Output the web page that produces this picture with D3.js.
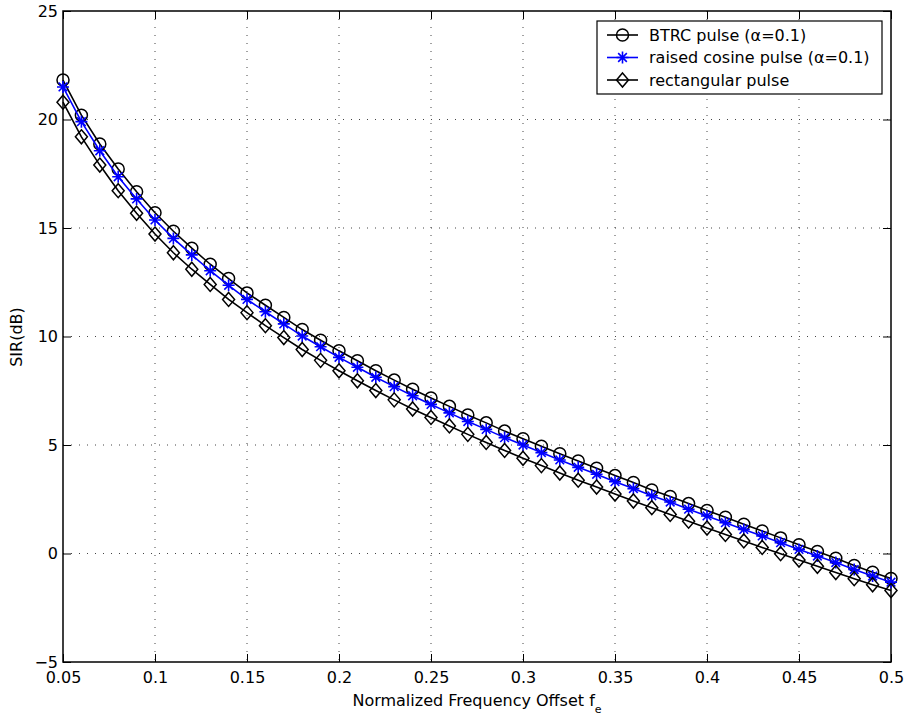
<!DOCTYPE html>
<html>
<head>
<meta charset="utf-8">
<script src="https://cdn.jsdelivr.net/npm/d3@7"></script>
<style>
html,body{margin:0;padding:0;background:#fff;}
svg{display:block;}
text{font-family:"DejaVu Sans","Liberation Sans",Arial,sans-serif;}
</style>
</head>
<body>
<svg id="chart" width="906" height="722"></svg>
<script>
// ---------------- data ----------------
const fe = [0.05,0.06,0.07,0.08,0.09,0.10,0.11,0.12,0.13,0.14,0.15,0.16,0.17,0.18,0.19,0.20,
  0.21,0.22,0.23,0.24,0.25,0.26,0.27,0.28,0.29,0.30,0.31,0.32,0.33,0.34,0.35,0.36,0.37,0.38,
  0.39,0.40,0.41,0.42,0.43,0.44,0.45,0.46,0.47,0.48,0.49,0.50];

const btrc = [21.82,20.20,18.87,17.72,16.67,15.70,14.85,14.07,13.33,12.67,12.01,11.44,10.88,10.32,
  9.83,9.34,8.88,8.42,7.99,7.57,7.17,6.78,6.38,6.02,5.64,5.29,4.94,4.60,4.26,3.93,3.59,3.27,2.93,
  2.63,2.30,1.98,1.67,1.35,1.04,0.72,0.40,0.09,-0.22,-0.55,-0.86,-1.15];

const raisedCos = [21.50,19.90,18.56,17.36,16.34,15.37,14.52,13.76,13.03,12.36,11.71,11.14,10.58,
  10.02,9.53,9.04,8.58,8.12,7.69,7.27,6.87,6.48,6.08,5.72,5.34,5.00,4.65,4.31,3.97,3.65,3.31,2.99,
  2.66,2.37,2.04,1.73,1.42,1.11,0.81,0.50,0.19,-0.12,-0.42,-0.74,-1.04,-1.32];

const rect = [20.80,19.20,17.90,16.72,15.68,14.72,13.86,13.10,12.40,11.71,11.10,10.50,9.95,9.40,
  8.90,8.42,7.96,7.51,7.08,6.66,6.27,5.88,5.49,5.12,4.75,4.39,4.05,3.71,3.38,3.06,2.74,2.42,2.11,
  1.80,1.49,1.17,0.88,0.58,0.28,-0.01,-0.30,-0.59,-0.88,-1.16,-1.44,-1.71];

const seriesNames = ["BTRC pulse (\u03b1=0.1)", "raised cosine pulse (\u03b1=0.1)", "rectangular pulse"];
const seriesColors = ["#000000", "#0000ff", "#000000"];
const seriesMarkers = ["circle", "star", "diamond"];
const xTicks = [0.05,0.1,0.15,0.2,0.25,0.3,0.35,0.4,0.45,0.5];
const yTicks = [-5,0,5,10,15,20,25];

// ---------------- layout ----------------
const svg = d3.select("#chart");
const L = 63, R = 891, T = 11, B = 662;
const x = d3.scaleLinear().domain([0.05, 0.5]).range([L, R]);
const y = d3.scaleLinear().domain([-5, 25]).range([B, T]);
const FS = 16;

// grid
const grid = svg.append("g");
grid.selectAll("line.gx").data(xTicks.slice(1, -1)).join("line")
  .attr("x1", d => x(d)).attr("x2", d => x(d)).attr("y1", T).attr("y2", B)
  .attr("stroke", "#444").attr("stroke-width", 1).attr("stroke-dasharray", "1,7");
grid.selectAll("line.gy").data(yTicks.slice(1, -1)).join("line")
  .attr("x1", L).attr("x2", R).attr("y1", d => y(d)).attr("y2", d => y(d))
  .attr("stroke", "#444").attr("stroke-width", 1).attr("stroke-dasharray", "1,7");

// axes (inward ticks, MATLAB style)
const fmtX = d3.format("~g");
const xAxisB = d3.axisBottom(x).tickValues(xTicks).tickSizeInner(-8).tickSizeOuter(0).tickPadding(10).tickFormat(fmtX);
const xAxisT = d3.axisTop(x).tickValues(xTicks).tickSizeInner(-8).tickSizeOuter(0).tickFormat("");
const yAxisL = d3.axisLeft(y).tickValues(yTicks).tickSizeInner(-8).tickSizeOuter(0).tickPadding(5).tickFormat(d3.format("d"));
const yAxisR = d3.axisRight(y).tickValues(yTicks).tickSizeInner(-8).tickSizeOuter(0).tickFormat("");

function styleAxis(g) {
  g.select(".domain").remove();
  g.selectAll(".tick line").attr("stroke", "#000").attr("stroke-width", 1);
  g.selectAll("text").attr("font-size", FS).attr("fill", "#000")
    .style("font-family", "'DejaVu Sans','Liberation Sans',Arial,sans-serif");
}
svg.append("g").attr("transform", `translate(0,${B})`).call(xAxisB).call(styleAxis);
svg.append("g").attr("transform", `translate(0,${T})`).call(xAxisT).call(styleAxis);
svg.append("g").attr("transform", `translate(${L},0)`).call(yAxisL).call(styleAxis);
svg.append("g").attr("transform", `translate(${R},0)`).call(yAxisR).call(styleAxis);

// frame
svg.append("rect").attr("x", L).attr("y", T).attr("width", R - L).attr("height", B - T)
  .attr("fill", "none").attr("stroke", "#000").attr("stroke-width", 1.5);

// markers
function drawMarker(g, type, cx, cy, color) {
  if (type === "circle") {
    g.append("circle").attr("cx", cx).attr("cy", cy).attr("r", 6)
      .attr("fill", "none").attr("stroke", color).attr("stroke-width", 1.5);
  } else if (type === "star") {
    const r = 6, d = r * 0.72;
    const p = `M${cx - r},${cy}L${cx + r},${cy}M${cx},${cy - r}L${cx},${cy + r}` +
      `M${cx - d},${cy - d}L${cx + d},${cy + d}M${cx - d},${cy + d}L${cx + d},${cy - d}`;
    g.append("path").attr("d", p).attr("stroke", color).attr("stroke-width", 1.6).attr("fill", "none");
  } else {
    const w = 6, h = 7;
    g.append("path").attr("d", `M${cx},${cy - h}L${cx + w},${cy}L${cx},${cy + h}L${cx - w},${cy}Z`)
      .attr("fill", "none").attr("stroke", color).attr("stroke-width", 1.5);
  }
}

const allSeries = [btrc, raisedCos, rect];
const line = d3.line().x(d => x(d[0])).y(d => y(d[1]));
allSeries.forEach((vals, i) => {
  const pts = fe.map((f, j) => [f, vals[j]]);
  const g = svg.append("g");
  g.append("path").datum(pts).attr("d", line).attr("fill", "none")
    .attr("stroke", seriesColors[i]).attr("stroke-width", 1.6);
  pts.forEach(p => drawMarker(g, seriesMarkers[i], x(p[0]), y(p[1]), seriesColors[i]));
});

// legend
const lg = svg.append("g");
lg.append("rect").attr("x", 597).attr("y", 21).attr("width", 285).attr("height", 73)
  .attr("fill", "#fff").attr("stroke", "#000").attr("stroke-width", 1.2);
seriesNames.forEach((name, i) => {
  const cy = 35 + i * 22.5;
  lg.append("line").attr("x1", 607).attr("x2", 638).attr("y1", cy).attr("y2", cy)
    .attr("stroke", seriesColors[i]).attr("stroke-width", 1.6);
  drawMarker(lg, seriesMarkers[i], 622.5, cy, seriesColors[i]);
  lg.append("text").attr("x", 649).attr("y", cy).attr("dy", "0.36em")
    .attr("font-size", FS).attr("fill", "#000").text(name);
});

// axis labels
const xl = svg.append("text").attr("x", 477).attr("y", 706).attr("text-anchor", "middle")
  .attr("font-size", FS).attr("fill", "#000");
xl.append("tspan").text("Normalized Frequency Offset f");
xl.append("tspan").attr("dy", 7).attr("font-size", 11).text("e");

svg.append("text").attr("transform", "translate(22,337) rotate(-90)")
  .attr("text-anchor", "middle").attr("font-size", FS).attr("fill", "#000").text("SIR(dB)");
</script>
</body>
</html>
